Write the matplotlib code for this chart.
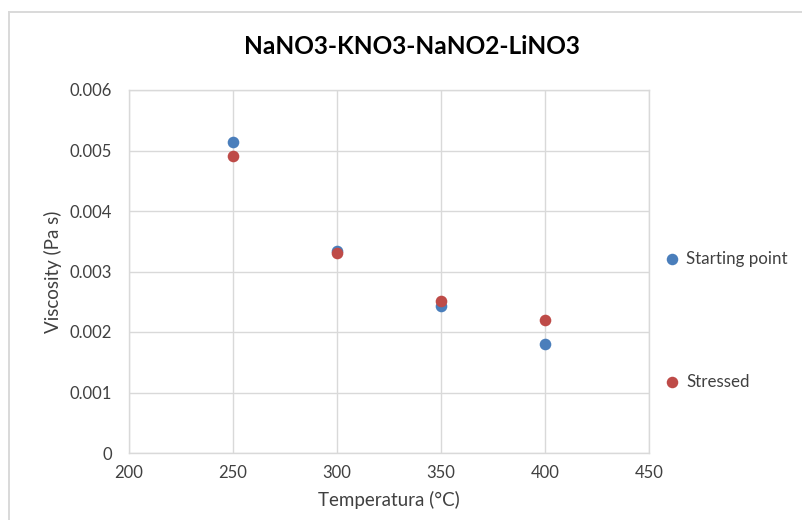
import matplotlib
matplotlib.use("Agg")
import matplotlib.pyplot as plt

plt.rcParams['font.family'] = ['Lato', 'DejaVu Sans']

temps = [250, 300, 350, 400]
starting_point = [0.00514, 0.00334, 0.00243, 0.00180]
stressed = [0.00491, 0.00331, 0.00251, 0.00220]
x_ticks = [200, 250, 300, 350, 400, 450]
y_ticks = [0, 0.001, 0.002, 0.003, 0.004, 0.005, 0.006]
y_labels = ["0", "0.001", "0.002", "0.003", "0.004", "0.005", "0.006"]

W, H = 803, 520
fig = plt.figure(figsize=(W / 100, H / 100), dpi=100)
ax = fig.add_axes([129 / W, 1 - 453 / H, (649 - 129) / W, (453 - 90) / H])

# chart frame: top and left edges
frame_kw = dict(transform=fig.transFigure, color='#d9d9d9', linewidth=1.4)
fig.lines.append(plt.Line2D([8.5 / W, 8.5 / W], [0, 1 - 12 / H], **frame_kw))
fig.lines.append(plt.Line2D([8.5 / W, 1], [1 - 12 / H, 1 - 12 / H], **frame_kw))

blue = '#4a7ebb'
red = '#be4b48'
ax.scatter(temps, starting_point, s=70, color=blue, zorder=3, linewidths=0)
ax.scatter(temps, stressed, s=70, color=red, zorder=3, linewidths=0)

ax.set_xlim(200, 450)
ax.set_ylim(0, 0.006)
ax.set_xticks(x_ticks)
ax.set_yticks(y_ticks)
ax.set_yticklabels(y_labels)
ax.grid(True, color='#d9d9d9', linewidth=1.0)
ax.set_axisbelow(True)
for s in ax.spines.values():
    s.set_color('#d9d9d9')
    s.set_linewidth(1.0)
ax.tick_params(axis='x', length=0, labelsize=12, colors='#404040', pad=9)
ax.tick_params(axis='y', length=0, labelsize=12, colors='#404040', pad=12)
ax.set_xlabel('Temperatura (°C)', fontsize=13.5, color='#404040', labelpad=7)
ax.set_ylabel('Viscosity (Pa s)', fontsize=13.5, color='#404040', labelpad=6)

fig.text(412 / W, 1 - 47 / H, 'NaNO3-KNO3-NaNO2-LiNO3', ha='center', va='center',
         fontsize=17.6, fontweight='bold', color='#000000')

# legend entries
for label, color, y in [('Starting point', blue, 259), ('Stressed', red, 382)]:
    fig.lines.append(plt.Line2D([672 / W], [1 - y / H], marker='o', markersize=8.3,
                                color=color, linestyle='none', markeredgewidth=0,
                                transform=fig.transFigure))
    fig.text(686 / W, 1 - y / H, label, ha='left', va='center',
             fontsize=12.2, color='#404040')

fig.savefig('out.png', dpi=100)
